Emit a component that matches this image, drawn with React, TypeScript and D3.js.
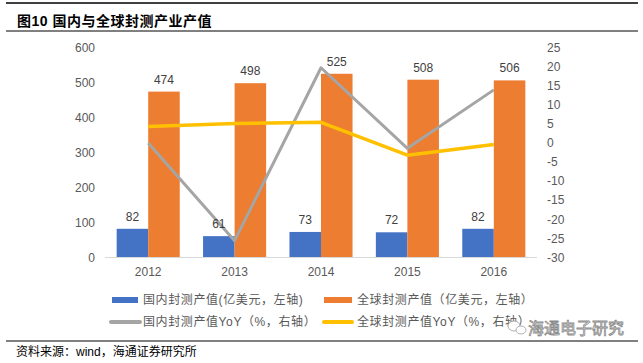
import * as d3 from "d3";

const years = ["2012", "2013", "2014", "2015", "2016"];
const domestic = [82, 61, 73, 72, 82];
const global = [474, 498, 525, 508, 506];
const domesticYoY = [0, -25.6, 19.7, -1.4, 13.9];
const globalYoY = [4.3, 5.1, 5.4, -3.2, -0.4];
const leftTicks = [0, 100, 200, 300, 400, 500, 600];
const rightTicks = [25, 20, 15, 10, 5, 0, -5, -10, -15, -20, -25, -30];

const W = 643;
const H = 363;
const plot = { left: 105, right: 537, top: 47.5, bottom: 257.5 };
const numFont = "'Liberation Sans', Arial, sans-serif";
const cjkFont = "'Liberation Sans', 'Noto Sans CJK SC', sans-serif";

const colors = {
  blue: "#4472C4",
  orange: "#ED7D31",
  gray: "#A5A5A5",
  yellow: "#FFC000",
};

export default function App() {
  const x = d3.scaleBand().domain(years).range([plot.left, plot.right]);
  const inner = d3
    .scaleBand()
    .domain(["d", "g"])
    .range([0, x.bandwidth() * 0.73]);
  const offset = (x.bandwidth() - inner.range()[1]) / 2;
  const yLeft = d3.scaleLinear().domain([0, 600]).range([plot.bottom, plot.top]);
  const yRight = d3.scaleLinear().domain([-30, 25]).range([plot.bottom, plot.top]);
  const cx = (y: string) => (x(y) ?? 0) + x.bandwidth() / 2;

  const line = (vals: number[]) =>
    d3
      .line<number>()
      .x((_, i) => cx(years[i]))
      .y((v) => yRight(v))(vals) ?? "";

  return (
    <svg
      width={W}
      height={H}
      style={{ position: "absolute", left: 0, top: 0, background: "#fff" }}
    >
      <line x1={6} x2={638} y1={3} y2={3} stroke="#000" strokeWidth={1.5} />
      <text
        x={17}
        y={26}
        fontSize={14}
        fontWeight="bold"
        fontFamily={cjkFont}
        letterSpacing={0.5}
        fill="#000"
      >
        图10 国内与全球封测产业产值
      </text>
      <line x1={6} x2={638} y1={31} y2={31} stroke="#000" strokeWidth={1} />

      {/* left axis */}
      {leftTicks.map((t) => (
        <text
          key={"l" + t}
          x={95}
          y={yLeft(t)}
          dy="0.35em"
          textAnchor="end"
          fontSize={12}
          fontFamily={numFont}
          fill="#595959"
        >
          {t}
        </text>
      ))}
      {/* right axis */}
      {rightTicks.map((t) => (
        <text
          key={"r" + t}
          x={547}
          y={yRight(t)}
          dy="0.35em"
          fontSize={12}
          fontFamily={numFont}
          fill="#595959"
        >
          {t}
        </text>
      ))}

      {/* bars */}
      {years.map((yr, i) => {
        const x0 = (x(yr) ?? 0) + offset;
        const bw = inner.bandwidth();
        return (
          <g key={yr}>
            <rect
              x={x0 + (inner("d") ?? 0)}
              y={yLeft(domestic[i])}
              width={bw}
              height={yLeft(0) - yLeft(domestic[i])}
              fill={colors.blue}
            />
            <rect
              x={x0 + (inner("g") ?? 0)}
              y={yLeft(global[i])}
              width={bw}
              height={yLeft(0) - yLeft(global[i])}
              fill={colors.orange}
            />
          </g>
        );
      })}

      <line
        x1={plot.left}
        x2={plot.right}
        y1={plot.bottom}
        y2={plot.bottom}
        stroke="#D9D9D9"
        strokeWidth={1}
      />

      {/* lines */}
      <path d={line(domesticYoY)} fill="none" stroke={colors.gray} strokeWidth={3} strokeLinejoin="round" />
      <path d={line(globalYoY)} fill="none" stroke={colors.yellow} strokeWidth={3.5} strokeLinejoin="round" />

      {/* data labels */}
      {years.map((yr, i) => {
        const x0 = (x(yr) ?? 0) + offset;
        const bw = inner.bandwidth();
        return (
          <g key={"lab" + yr} fontSize={12} fontFamily={numFont} fill="#404040" textAnchor="middle">
            <text x={x0 + (inner("d") ?? 0) + bw / 2} y={yLeft(domestic[i]) - 8}>
              {domestic[i]}
            </text>
            <text x={x0 + (inner("g") ?? 0) + bw / 2} y={yLeft(global[i]) - 8}>
              {global[i]}
            </text>
          </g>
        );
      })}

      {/* x labels */}
      {years.map((yr) => (
        <text
          key={"x" + yr}
          x={cx(yr)}
          y={276}
          textAnchor="middle"
          fontSize={12}
          fontFamily={numFont}
          fill="#595959"
        >
          {yr}
        </text>
      ))}

      {/* legend */}
      <g fontSize={12} fontFamily={cjkFont} fill="#595959" letterSpacing={0.6}>
        <rect x={112} y={297} width={26} height={6} fill={colors.blue} />
        <text x={143} y={304}>国内封测产值(亿美元，左轴)</text>
        <rect x={324} y={297} width={28} height={6} fill={colors.orange} />
        <text x={357} y={304}>全球封测产值（亿美元，左轴）</text>
        <line x1={111} x2={140} y1={322} y2={322} stroke={colors.gray} strokeWidth={4} strokeLinecap="round" />
        <text x={143} y={326}>国内封测产值YoY（%，右轴）</text>
        <line x1={324} x2={352} y1={322} y2={322} stroke={colors.yellow} strokeWidth={4} strokeLinecap="round" />
        <text x={357} y={326}>全球封测产值YoY（%，右轴）</text>
      </g>

      {/* watermark */}
      <g fill="#fff" stroke="#9a9a9a" strokeWidth={0.8}>
        <ellipse cx={514} cy={326} rx={6} ry={5} />
        <ellipse cx={521} cy={330} rx={5} ry={4} />
      </g>
      <text
        x={528}
        y={334}
        fontSize={16}
        fontFamily={cjkFont}
        fill="#fff"
        stroke="#8c8c8c"
        strokeWidth={0.8}
      >
        海通电子研究
      </text>

      <line x1={6} x2={638} y1={341} y2={341} stroke="#000" strokeWidth={1} />
      <text x={16} y={356} fontSize={12} fontFamily={cjkFont} fill="#000">
        资料来源：wind，海通证券研究所
      </text>
    </svg>
  );
}
